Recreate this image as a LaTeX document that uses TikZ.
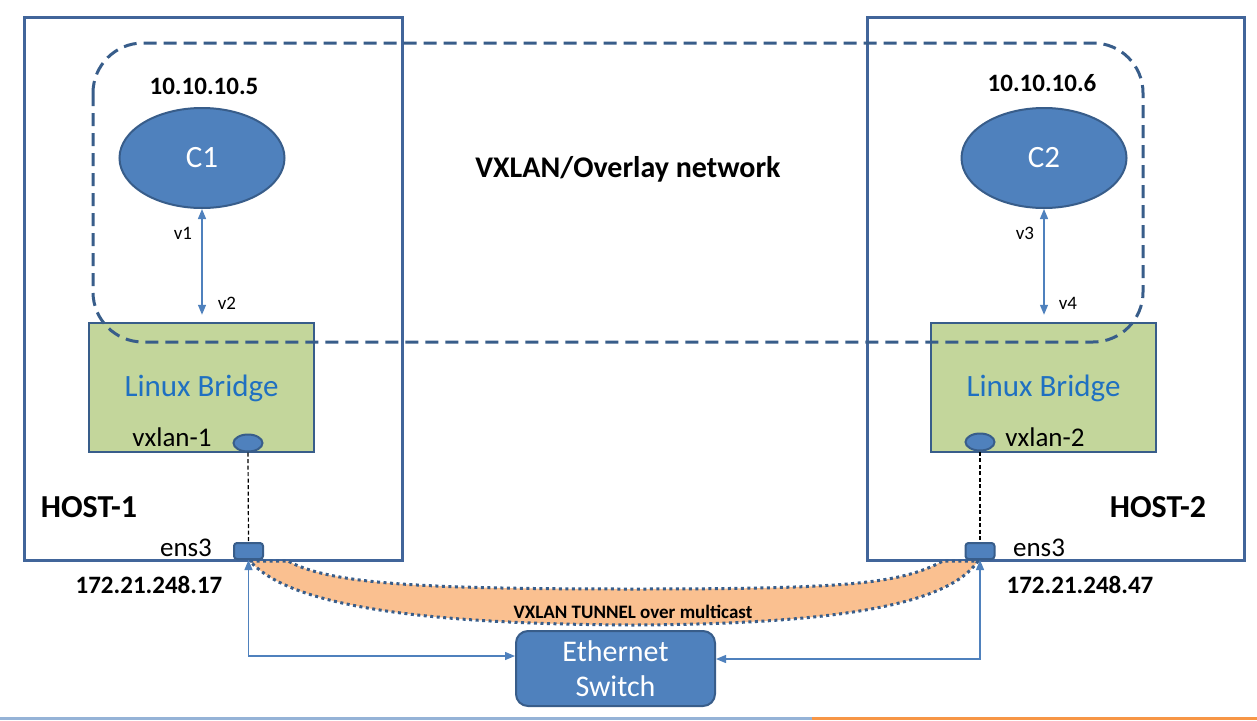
\documentclass[tikz,border=0pt]{standalone}
\usepackage{fontspec}
\setmainfont{Carlito}
\usetikzlibrary{arrows.meta,shapes.geometric,calc}
\definecolor{hostblue}{HTML}{41659A}
\definecolor{darkb}{HTML}{385D8A}
\definecolor{fillb}{HTML}{4F81BD}
\definecolor{brgreen}{HTML}{C3D69B}
\definecolor{brtext}{HTML}{1F70C1}
\definecolor{tunnel}{HTML}{FAC090}
\definecolor{barblue}{HTML}{95B3D7}
\definecolor{barorange}{HTML}{F79646}
\tikzset{
  hostbox/.style={draw=hostblue,line width=3pt},
  cont/.style={ellipse,draw=darkb,fill=fillb,line width=2pt,minimum width=165pt,minimum height=100pt,inner sep=0pt,text=white,font=\fontsize{31}{36}\selectfont},
  bridge/.style={draw=darkb,fill=brgreen,line width=2.5pt,minimum width=225pt,minimum height=129pt,inner sep=0pt},
  vport/.style={ellipse,draw=darkb,fill=fillb,line width=2pt,minimum width=29pt,minimum height=17pt,inner sep=0pt},
  nic/.style={draw=darkb,fill=fillb,line width=2pt,rounded corners=3pt,minimum width=29pt,minimum height=16pt,inner sep=0pt},
  swbox/.style={draw=darkb,fill=fillb,line width=2pt,rounded corners=12pt,minimum width=199pt,minimum height=75pt,inner sep=0pt,text=white,align=center,font=\fontsize{30}{36}\selectfont},
  link/.style={draw=fillb,line width=1.3pt,{Triangle[length=10pt,width=8pt]}-{Triangle[length=10pt,width=8pt]}},
  ipl/.style={font=\bfseries\fontsize{25}{30}\selectfont},
  hostl/.style={font=\bfseries\fontsize{32}{38}\selectfont},
  small/.style={font=\fontsize{19}{23}\selectfont},
  mid/.style={font=\fontsize{27}{32}\selectfont},
}
\begin{document}
\begin{tikzpicture}[x=1pt,y=-1pt]
\useasboundingbox (0,0) rectangle (1257,720);
\fill[white] (0,0) rectangle (1257,720);
% bottom bar
\fill[barblue] (0,716.5) rectangle (812,720);
\fill[barorange] (812,716.5) rectangle (1257,720);
% hosts
\draw[hostbox] (24,17) rectangle (402,560);
\draw[hostbox] (867,17) rectangle (1244,560);
% bridges
\node[bridge] (br1) at (201.5,387.5) {};
\node[bridge] (br2) at (1043.5,387.5) {};
% overlay dashed
\draw[darkb,line width=3pt,dash pattern=on 13pt off 7pt,rounded corners=50pt] (93,43) rectangle (1143,342);
\node[text=brtext,font=\fontsize{31}{36}\selectfont] at (201.5,388) {Linux Bridge};
\node[text=brtext,font=\fontsize{31}{36}\selectfont] at (1043.5,388) {Linux Bridge};
% containers
\node[cont] (c1) at (202,158) {C1};
\node[cont] (c2) at (1044,158) {C2};
\node[ipl] at (204,86) {10.10.10.5};
\node[ipl] at (1042,83) {10.10.10.6};
\node[font=\bfseries\fontsize{30}{36}\selectfont] at (628,169) {VXLAN/Overlay network};
% veth links
\draw[link,shorten >=7pt] (c1.south) -- (c1.south |- br1.north);
\draw[link,shorten >=7pt] (c2.south) -- (c2.south |- br2.north);
\node[small] at (183,233) {v1};
\node[small] at (227,303) {v2};
\node[small] at (1025,233) {v3};
\node[small] at (1068,303) {v4};
% vxlan ports
\node[vport] (vx1) at (248,443) {};
\node[vport] (vx2) at (980,442) {};
\node[mid] at (172,437) {vxlan-1};
\node[mid] at (1045,437) {vxlan-2};
% nics
\node[nic] (e1) at (248.5,551) {};
\node[nic] (e2) at (980,551) {};
\draw[black,line width=1.2pt,dash pattern=on 4pt off 2.5pt] (vx1.south) -- (e1.north);
\draw[black,line width=1.2pt,dash pattern=on 4pt off 2.5pt] (vx2.south) -- (e2.north);
\node[mid] at (186,548) {ens3};
\node[mid] at (1039,548) {ens3};
\node[hostl] at (89,507) {HOST-1};
\node[hostl] at (1158,507) {HOST-2};
\node[ipl] at (149,585) {172.21.248.17};
\node[ipl] at (1080,585) {172.21.248.47};
% tunnel
\draw[fill=tunnel, draw=darkb, line width=3pt, dash pattern=on 3pt off 3.5pt]
  (250,561) -- (288,561) .. controls (330,584) and (420,589) .. (633,589)
  .. controls (846,589) and (900,584) .. (943,561) -- (978,561)
  .. controls (950,602) and (850,624) .. (633,625)
  .. controls (420,624) and (290,606) .. (250,561) -- cycle;
\node[font=\bfseries\fontsize{19}{23}\selectfont] at (633,612) {VXLAN TUNNEL over multicast};
% switch
\node[swbox] (sw) at (615.5,668.5) {Ethernet\\[-1pt]Switch};
\coordinate (swl) at (sw.west |- 0,656);
\coordinate (swr) at (sw.east |- 0,659);
\draw[link] (e1.south) |- (swl);
\draw[link] (e2.south) |- (swr);
\end{tikzpicture}
\end{document}
